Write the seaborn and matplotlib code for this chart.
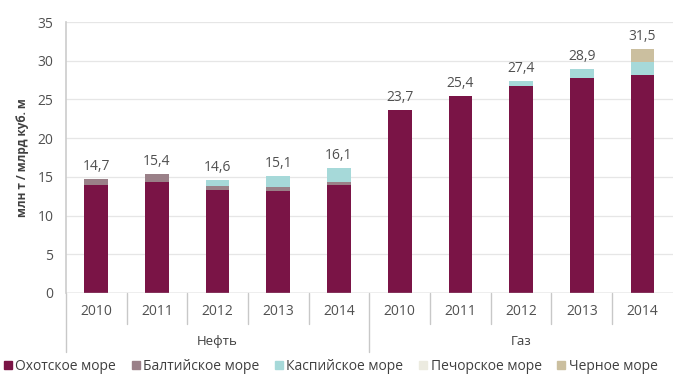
import numpy as np
import pandas as pd
import matplotlib
matplotlib.use("Agg")
import matplotlib.pyplot as plt
from matplotlib.lines import Line2D
import seaborn as sns

# Production by sea, 2010-2014 (oil: mln t, gas: bn m3)
groups = ["Нефть", "Газ"]
years = ["2010", "2011", "2012", "2013", "2014"]
seas = ["Охотское море", "Балтийское море", "Каспийское море", "Печорское море", "Черное море"]

oil_okhotsk = [14.0, 14.3, 13.3, 13.2, 13.9]
oil_baltic = [0.7, 1.1, 0.5, 0.5, 0.4]
oil_caspian = [0.0, 0.0, 0.8, 1.4, 1.8]
oil_pechora = [0.0, 0.0, 0.0, 0.0, 0.0]
oil_black = [0.0, 0.0, 0.0, 0.0, 0.0]

gas_okhotsk = [23.7, 25.4, 26.7, 27.8, 28.2]
gas_baltic = [0.0, 0.0, 0.0, 0.0, 0.0]
gas_caspian = [0.0, 0.0, 0.7, 1.1, 1.6]
gas_pechora = [0.0, 0.0, 0.0, 0.0, 0.0]
gas_black = [0.0, 0.0, 0.0, 0.0, 1.7]

y_label = "млн т / млрд куб. м"

colors = ["#7a1446", "#9a8088", "#a6d9d9", "#ecebe0", "#cbbf9f"]

sns.set_theme(style="white")
plt.rcParams["font.family"] = ["Open Sans", "DejaVu Sans"]

series = {
    "Нефть": [oil_okhotsk, oil_baltic, oil_caspian, oil_pechora, oil_black],
    "Газ": [gas_okhotsk, gas_baltic, gas_caspian, gas_pechora, gas_black],
}

rows = []
for g in groups:
    for yi, yr in enumerate(years):
        for si, s in enumerate(seas):
            rows.append({"cat": f"{g} {yr}", "group": g, "year": yr,
                         "sea": s, "sea_idx": si, "value": series[g][si][yi]})
df = pd.DataFrame(rows)
order = [f"{g} {y}" for g in groups for y in years]
df["cat"] = pd.Categorical(df["cat"], categories=order, ordered=True)
df = df.sort_values(["cat", "sea_idx"])
df["cum"] = df.groupby("cat", observed=True)["value"].cumsum()

fig = plt.figure(figsize=(6.79, 3.80), dpi=100)
ax = fig.add_axes([0.097, 0.229, 0.894, 0.713])

# Stack by drawing cumulative heights, top layer first
for si in reversed(range(len(seas))):
    sub = df[df["sea_idx"] == si]
    sns.barplot(data=sub, x="cat", y="cum", order=order, color=colors[si],
                width=0.39, saturation=1, ax=ax, errorbar=None, zorder=3,
                linewidth=0, edgecolor="none")

totals = df.groupby("cat", observed=True)["value"].sum().reindex(order)
for i, t in enumerate(totals):
    ax.annotate(f"{t:.1f}".replace(".", ","), (i, t), xytext=(0, 3.5),
                textcoords="offset points", ha="center", va="bottom",
                fontsize=10, color="#505050")

ax.set_ylim(0, 35)
ax.set_xlim(-0.5, len(order) - 0.5)
ax.set_yticks(np.arange(0, 36, 5))
ax.yaxis.grid(True, color="#e6e6e6", linewidth=0.9, zorder=0)
ax.tick_params(axis="y", labelsize=10, labelcolor="#505050", length=0, pad=9)
ax.set_ylabel(y_label, fontsize=8.5, color="#404040", fontweight="bold", labelpad=6)
ax.set_xlabel("")
ax.set_xticks([])
for sp in ["top", "right", "bottom"]:
    ax.spines[sp].set_visible(False)
ax.spines["left"].set_color("#cccccc")
ax.spines["left"].set_linewidth(1.2)
ax.axhline(0, color="#bbbbbb", linewidth=1.0, zorder=4)

# Two-level category axis
trans = ax.get_xaxis_transform()
line_kw = dict(color="#c8c8c8", linewidth=1.0, transform=trans, clip_on=False)
for i, cat in enumerate(order):
    yr = cat.split(" ")[1]
    ax.text(i, -0.068, yr, transform=trans, ha="center", va="center",
            fontsize=10, color="#505050")
for b in range(1, len(order)):
    if b % len(years) == 0:
        continue
    ax.add_line(Line2D([b - 0.5, b - 0.5], [0, -0.115], **line_kw))
for b in [-0.5, len(years) - 0.5]:
    ax.add_line(Line2D([b, b], [0, -0.218], **line_kw))
for gi, g in enumerate(groups):
    ax.text(gi * len(years) + (len(years) - 1) / 2, -0.18, g, transform=trans,
            ha="center", va="center", fontsize=9.5, color="#404040")

handles = [Line2D([], [], marker="s", linestyle="", markersize=5.5,
                  markerfacecolor=c, markeredgecolor=c) for c in colors]
fig.legend(handles, seas, loc="center left", bbox_to_anchor=(-0.003, 0.035),
           ncol=5, frameon=False, fontsize=10, handlelength=0.6,
           handletextpad=0.25, columnspacing=1.1, labelcolor="#404040",
           borderaxespad=0)

fig.savefig("out.png", dpi=100)
